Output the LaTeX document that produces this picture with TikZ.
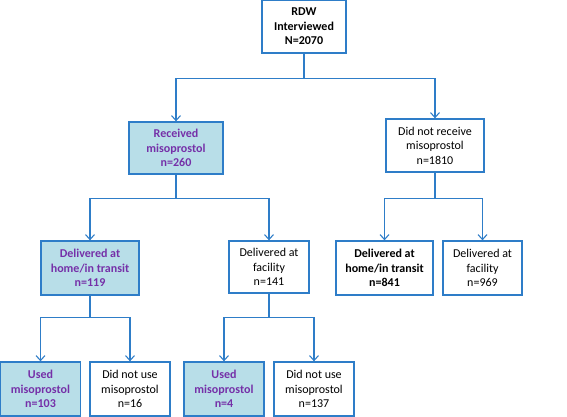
\documentclass[tikz,border=0pt]{standalone}
\usepackage{fontspec}
\setmainfont{Carlito}
\usepackage{tikz}
\usetikzlibrary{arrows.meta}
\definecolor{boxblue}{HTML}{2E7DC8}
\definecolor{boxfill}{HTML}{B8DEE8}
\definecolor{misopurple}{HTML}{7530A8}

\begin{document}
\begin{tikzpicture}[x=1pt, y=1pt,
  box/.style={draw=boxblue, line width=1.3pt, fill=white, inner sep=0pt,
    align=center, font=\fontsize{12}{14.5}\selectfont},
  hl/.style={box, fill=boxfill, text=misopurple, font=\fontsize{12}{14.5}\selectfont\bfseries},
  arr/.style={draw=boxblue, line width=1.3pt, -{Straight Barb[length=5pt, width=9pt, line width=1.1pt]}}]
  \useasboundingbox (0,0) rectangle (567,416);
  \node[box, minimum width=84pt, minimum height=53pt, font=\fontsize{12}{14.5}\selectfont\bfseries] (top) at (304,389.5) {RDW\\Interviewed\\N=2070};
  \node[hl, minimum width=94pt, minimum height=52pt] (recv) at (176,268) {Received\\misoprostol\\n=260};
  \node[box, minimum width=98pt, minimum height=53pt] (norecv) at (435,270.5) {Did not receive\\misoprostol\\n=1810};
  \node[hl, minimum width=98pt, minimum height=54pt] (home) at (90,148) {Delivered at\\home/in transit\\n=119};
  \node[box, minimum width=80pt, minimum height=52pt] (fac) at (269,149) {Delivered at\\facility\\n=141};
  \node[box, minimum width=97pt, minimum height=54pt, font=\fontsize{12}{14.5}\selectfont\bfseries] (hometwo) at (384.5,148) {Delivered at\\home/in transit\\n=841};
  \node[box, minimum width=79pt, minimum height=54pt] (factwo) at (482.5,148) {Delivered at\\facility\\n=969};
  \node[hl, minimum width=80pt, minimum height=54pt] (usedone) at (40.5,27) {Used\\misoprostol\\n=103};
  \node[box, minimum width=80pt, minimum height=54pt] (notusedone) at (130,27) {Did not use\\misoprostol\\n=16};
  \node[hl, minimum width=80pt, minimum height=54pt] (usedtwo) at (224,27) {Used\\misoprostol\\n=4};
  \node[box, minimum width=80pt, minimum height=54pt] (notusedtwo) at (314,27) {Did not use\\misoprostol\\n=137};
  \draw[arr] (top.south) -- ++(0,-25) -| (recv.north);
  \draw[arr] (top.south) -- ++(0,-25) -| (norecv.north);
  \draw[arr] (recv.south) -- ++(0,-24) -| (home.north);
  \draw[arr] (recv.south) -- ++(0,-24) -| (fac.north);
  \draw[arr] (norecv.south) -- ++(0,-26) -| (hometwo.north);
  \draw[arr] (norecv.south) -- ++(0,-26) -| (factwo.north);
  \draw[arr] (home.south) -- ++(0,-22) -| (usedone.north);
  \draw[arr] (home.south) -- ++(0,-22) -| (notusedone.north);
  \draw[arr] (fac.south) -- ++(0,-24) -| (usedtwo.north);
  \draw[arr] (fac.south) -- ++(0,-24) -| (notusedtwo.north);
\end{tikzpicture}
\end{document}
